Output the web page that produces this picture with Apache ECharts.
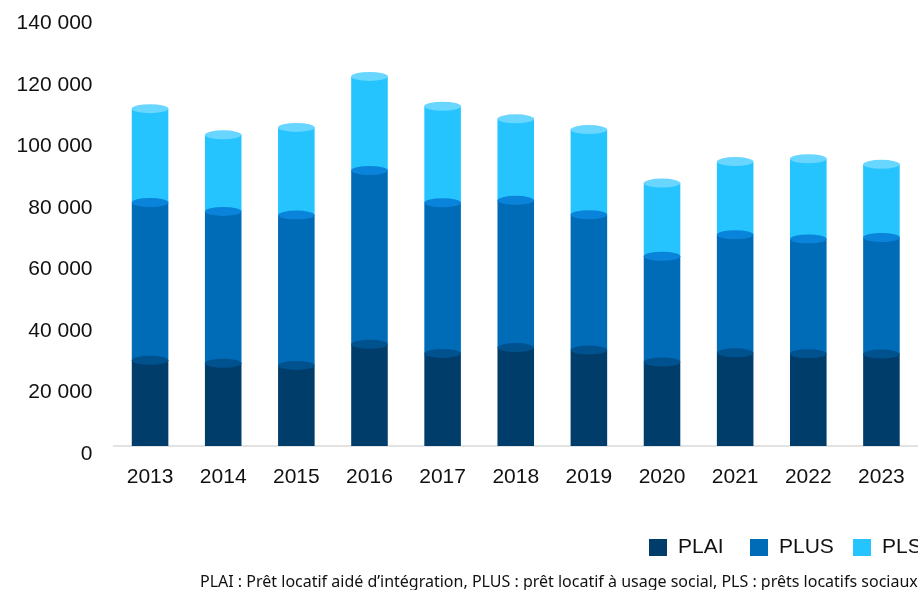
<!DOCTYPE html>
<html lang="fr">
<head>
    <meta charset="UTF-8">
    <title>Logements sociaux financés</title>
    <script src="https://cdn.jsdelivr.net/npm/echarts@6/dist/echarts.min.js"></script>
    <style>
        *{
            padding:0;
            margin:0;
        }
        html,body{
            width:918px;
            height:590px;
            background:#fff;
            overflow:hidden;
        }
        #main{
            width:918px;
            height:590px;
        }
    </style>
</head>
<body>
<div id="main"></div>
<script>
    var annees = ['2013','2014','2015','2016','2017','2018','2019','2020','2021','2022','2023'];
    var plai = [27900, 26900, 26200, 33100, 30100, 32000, 31200, 27300, 30300, 30000, 29900];
    var plus = [51300, 49400, 48900, 56500, 49000, 47900, 44000, 34400, 38400, 37300, 37900];
    var pls  = [30500, 24900, 28500, 30600, 31400, 26500, 27700, 23800, 23800, 26100, 23800];
    var yTicks = [0, 20000, 40000, 60000, 80000, 100000, 120000, 140000];

    var couleurs = {PLAI:'#003d6b', PLUS:'#006bb7', PLS:'#25c4ff'};
    var chapeaux = {PLAI:'#00528e', PLUS:'#0a84da', PLS:'#68d6ff'};

    // hauteurs cumulées pour poser les ellipses (effet cylindre)
    var cumPlai = [], cumPlus = [], cumPls = [];
    for (var i = 0; i < annees.length; i++) {
        cumPlai.push(plai[i]);
        cumPlus.push(plai[i] + plus[i]);
        cumPls.push(plai[i] + plus[i] + pls[i]);
    }

    function fmt(v){
        return String(v).replace(/\B(?=(\d{3})+(?!\d))/g, ' ');
    }

    function cap(nom, data){
        return {
            name: nom + '_cap',
            type: 'pictorialBar',
            symbol: 'circle',
            symbolSize: ['100%', 9],
            symbolPosition: 'end',
            symbolOffset: [0, '-50%'],
            barWidth: '50%',
            barGap: '-100%',
            z: 5,
            silent: true,
            itemStyle: {color: chapeaux[nom]},
            data: data
        };
    }

    function legende(nom, left){
        return {
            data: [nom],
            left: left,
            top: 537,
            padding: 0,
            itemWidth: 18,
            itemHeight: 17,
            icon: 'rect',
            textStyle: {
                fontFamily: 'Liberation Sans',
                fontSize: 21,
                color: '#111',
                padding: [0, 0, 0, 6]
            }
        };
    }

    var myChart = echarts.init(document.getElementById('main'), null, {renderer:'canvas'});
    var option = {
        animation: false,
        title: {
            text: 'PLAI : Prêt locatif aidé d’intégration, PLUS : prêt locatif à usage social, PLS : prêts locatifs sociaux',
            left: 200,
            top: 574,
            padding: 0,
            textStyle: {
                fontFamily: 'Noto Sans',
                fontSize: 16,
                fontWeight: 'normal',
                color: '#111'
            }
        },
        legend: [
            legende('PLAI', 649),
            legende('PLUS', 750),
            legende('PLS', 853)
        ],
        grid: {
            left: 113.5,
            right: -11,
            top: 15.5,
            bottom: 144
        },
        xAxis: {
            type: 'category',
            data: annees,
            axisTick: {show: false},
            axisLine: {lineStyle: {color: '#d9d9d9', width: 1.5}},
            axisLabel: {
                color: '#111',
                fontFamily: 'Liberation Sans',
                fontSize: 21,
                margin: 21,
                lineHeight: 21
            }
        },
        yAxis: {
            type: 'value',
            min: yTicks[0],
            max: yTicks[yTicks.length - 1],
            interval: yTicks[1] - yTicks[0],
            splitLine: {show: false},
            axisLine: {show: false},
            axisTick: {show: false},
            axisLabel: {
                color: '#111',
                fontFamily: 'Liberation Sans',
                fontSize: 21,
                margin: 21,
                verticalAlign: 'top',
                lineHeight: 16,
                formatter: function(v){ return fmt(v); }
            }
        },
        series: [
            {name:'PLAI', type:'bar', stack:'total', barWidth:'50%', itemStyle:{color:couleurs.PLAI}, data:plai},
            {name:'PLUS', type:'bar', stack:'total', barWidth:'50%', itemStyle:{color:couleurs.PLUS}, data:plus},
            {name:'PLS',  type:'bar', stack:'total', barWidth:'50%', itemStyle:{color:couleurs.PLS},  data:pls},
            cap('PLAI', cumPlai),
            cap('PLUS', cumPlus),
            cap('PLS', cumPls)
        ]
    };
    myChart.setOption(option);
</script>
</body>
</html>
